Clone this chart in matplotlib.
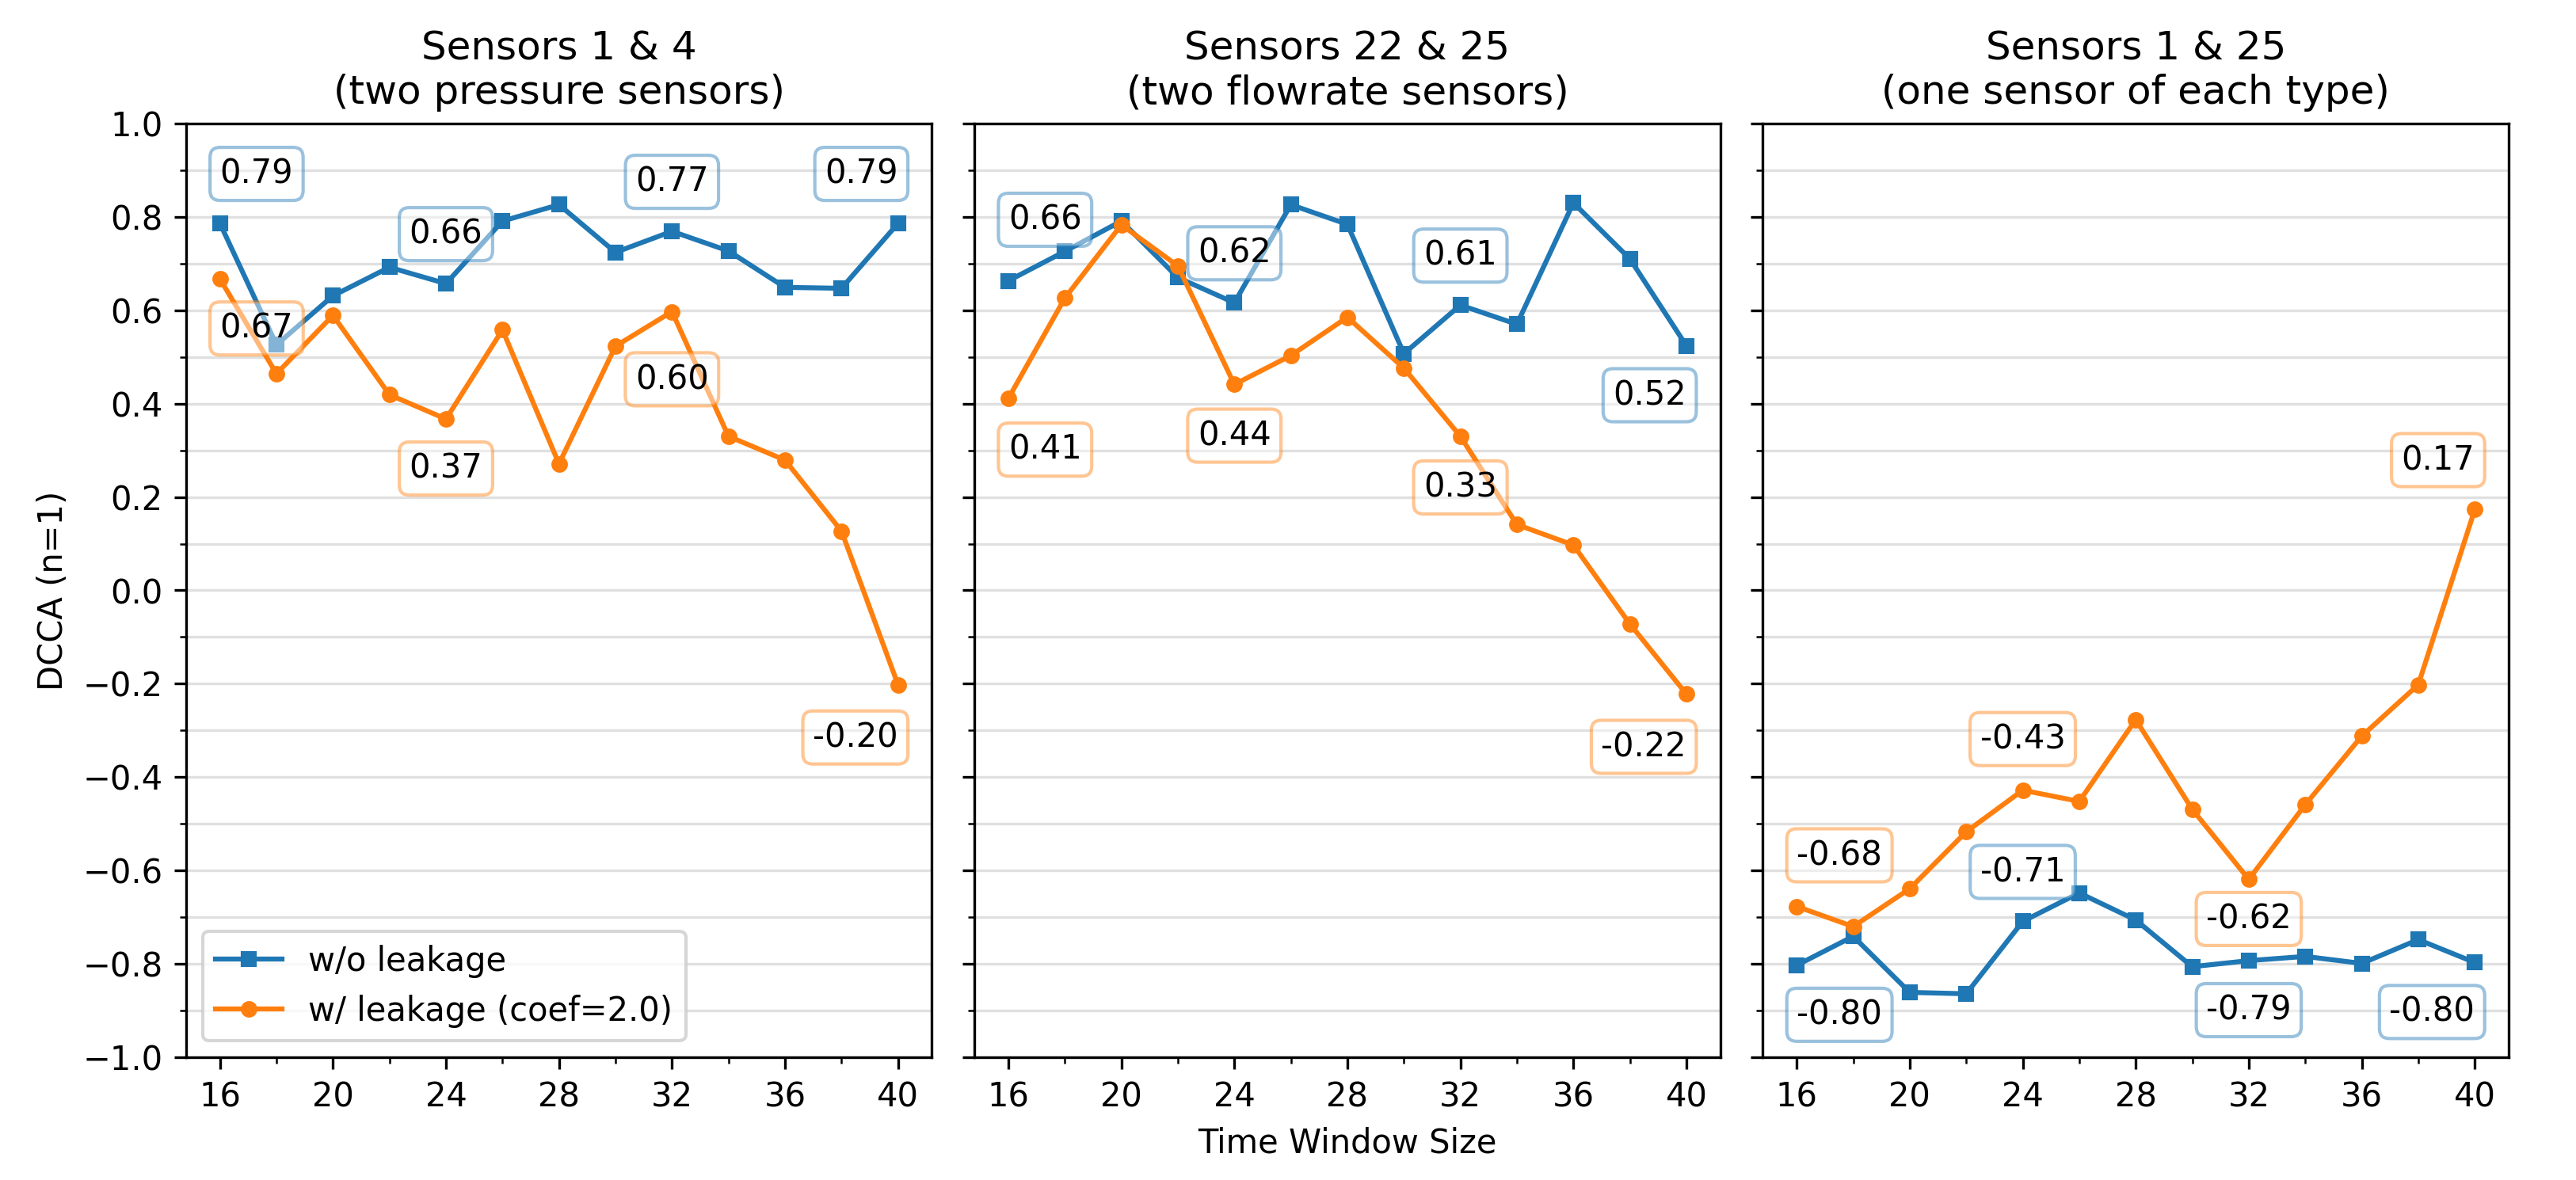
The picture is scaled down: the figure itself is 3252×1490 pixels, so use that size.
import matplotlib
matplotlib.use("Agg")
import matplotlib.pyplot as plt
from matplotlib.ticker import MultipleLocator

windows = [16, 18, 20, 22, 24, 26, 28, 30, 32, 34, 36, 38, 40]

titles = ["Sensors 1 & 4\n(two pressure sensors)",
          "Sensors 22 & 25\n(two flowrate sensors)",
          "Sensors 1 & 25\n(one sensor of each type)"]

# w/o leakage
no_leak_1_4 = [0.786, 0.526, 0.631, 0.692, 0.657, 0.791, 0.826, 0.724, 0.769, 0.727, 0.649, 0.647, 0.786]
no_leak_22_25 = [0.663, 0.726, 0.791, 0.670, 0.616, 0.826, 0.784, 0.507, 0.611, 0.570, 0.830, 0.710, 0.524]
no_leak_1_25 = [-0.803, -0.741, -0.861, -0.864, -0.709, -0.648, -0.706, -0.806, -0.793, -0.784, -0.799, -0.748, -0.797]

# w/ leakage (coef=2.0)
leak_1_4 = [0.667, 0.464, 0.589, 0.419, 0.367, 0.558, 0.271, 0.523, 0.597, 0.330, 0.279, 0.127, -0.202]
leak_22_25 = [0.411, 0.626, 0.783, 0.695, 0.441, 0.503, 0.585, 0.476, 0.330, 0.141, 0.097, -0.072, -0.222]
leak_1_25 = [-0.677, -0.720, -0.639, -0.517, -0.428, -0.452, -0.277, -0.469, -0.619, -0.459, -0.312, -0.202, 0.173]

no_leak = [no_leak_1_4, no_leak_22_25, no_leak_1_25]
leak = [leak_1_4, leak_22_25, leak_1_25]

# label offsets (points) for every 4th point
no_leak_off = [[15, 15, 15, 15], [18.5, 15, 15, -15], [-15, 15, -15, -15]]
leak_off = [[-15, -15, -20.5, -16], [-15.5, -15.5, -15.5, -16], [15.5, 15.5, -12, 15]]
label_ha = ["left", "center", "center", "right"]

fig, axes = plt.subplots(1, 3, figsize=(10.843, 4.967), dpi=300, sharey=True)
fig.subplots_adjust(left=0.0722, right=0.9736, top=0.8953, bottom=0.104, wspace=0.057)

for i, ax in enumerate(axes):
    ax.plot(windows, no_leak[i], marker="s", markersize=4, color="C0", label="w/o leakage")
    ax.plot(windows, leak[i], marker="o", markersize=4, color="C1", label="w/ leakage (coef=2.0)")
    for k, j in enumerate(range(0, len(windows), 4)):
        ax.annotate("%.2f" % no_leak[i][j], (windows[j], no_leak[i][j]),
                    xytext=(0, no_leak_off[i][k]), textcoords="offset points",
                    ha=label_ha[k], va="center", fontsize=10,
                    bbox=dict(boxstyle="round", fc="white", ec="C0", alpha=0.45))
        ax.annotate("%.2f" % leak[i][j], (windows[j], leak[i][j]),
                    xytext=(0, leak_off[i][k]), textcoords="offset points",
                    ha=label_ha[k], va="center", fontsize=10,
                    bbox=dict(boxstyle="round", fc="white", ec="C1", alpha=0.45))
    ax.set_title(titles[i], fontsize=12)
    ax.set_ylim(-1, 1)
    ax.xaxis.set_major_locator(MultipleLocator(4))
    ax.xaxis.set_minor_locator(MultipleLocator(2))
    ax.yaxis.set_major_locator(MultipleLocator(0.2))
    ax.yaxis.set_minor_locator(MultipleLocator(0.1))
    ax.grid(axis="y", which="both", color="#e0e0e0", linewidth=0.8)
    ax.set_axisbelow(True)

axes[0].set_ylabel("DCCA (n=1)")
axes[1].set_xlabel("Time Window Size")
axes[0].legend(loc="lower left")

fig.savefig("out.png", dpi=300)
